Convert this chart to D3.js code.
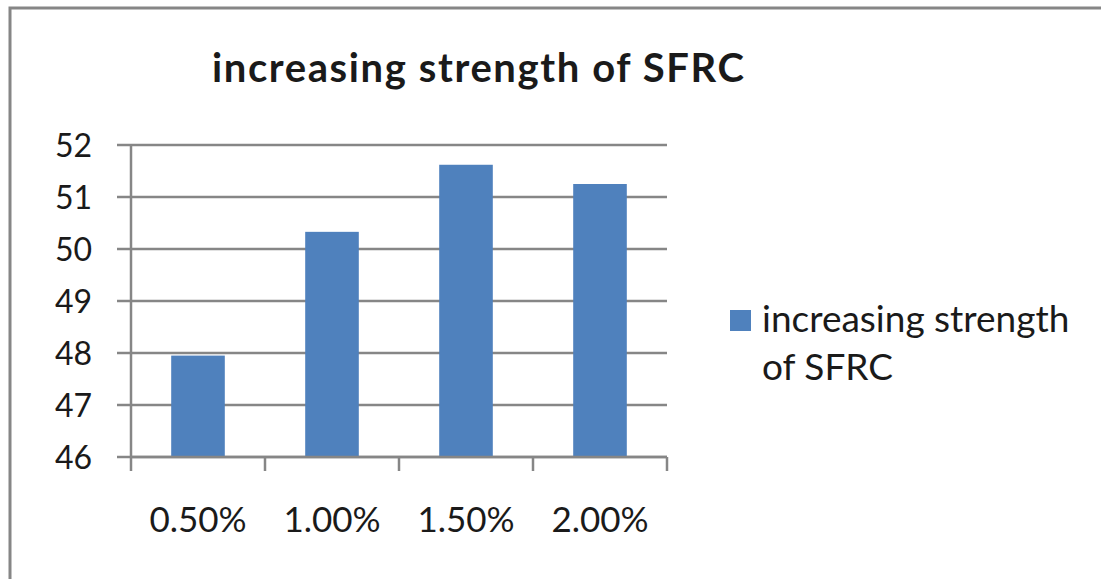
<!DOCTYPE html>
<html>
<head>
<meta charset="utf-8">
<script src="https://cdn.jsdelivr.net/npm/d3@7"></script>
<style>
  body { margin: 0; background: #fff; }
  svg { display: block; font-family: Lato, "Open Sans", sans-serif; }
</style>
</head>
<body>
<svg class="chart"></svg>
<script>
const categories = ['0.50%', '1.00%', '1.50%', '2.00%']
const strengths = [47.95, 50.33, 51.62, 51.25]
const yTicks = [46, 47, 48, 49, 50, 51, 52]
const seriesName = 'increasing strength of SFRC'
const legendLines = ['increasing strength', 'of SFRC']

const w = 1101
const h = 579
const plotLeft = 131
const plotRight = 667
const plotTop = 145
const plotBottom = 457
const barColor = '#4f81bd'
const lineColor = '#868686'
const textColor = '#1a1a1a'

const svg = d3.select('.chart')
  .attr('width', w)
  .attr('height', h)

// outer chart border (runs off the right and bottom edges)
svg.append('rect')
  .attr('x', 10)
  .attr('y', 8)
  .attr('width', w + 20)
  .attr('height', h + 20)
  .attr('fill', '#fff')
  .attr('stroke', lineColor)
  .attr('stroke-width', 3)

const xScale = d3.scaleBand()
  .domain(categories)
  .range([plotLeft, plotRight])
  .padding(0)

const yScale = d3.scaleLinear()
  .domain([46, 52])
  .range([plotBottom, plotTop])

// gridlines + y tick marks
svg.append('g')
  .selectAll('line')
  .data(yTicks)
  .enter()
  .append('line')
  .attr('x1', plotLeft - 14)
  .attr('x2', plotRight)
  .attr('y1', d => yScale(d))
  .attr('y2', d => yScale(d))
  .attr('stroke', lineColor)
  .attr('stroke-width', 2.5)

// y tick labels
svg.append('g')
  .selectAll('text')
  .data(yTicks)
  .enter()
  .append('text')
  .attr('x', 92)
  .attr('y', d => yScale(d))
  .attr('dy', '0.36em')
  .attr('text-anchor', 'end')
  .attr('fill', textColor)
  .style('font-size', '32px')
  .text(d => d)

// bars
const bw = xScale.bandwidth() * 0.4
svg.append('g')
  .selectAll('rect')
  .data(strengths)
  .enter()
  .append('rect')
  .attr('x', (d, i) => xScale(categories[i]) + (xScale.bandwidth() - bw) / 2)
  .attr('y', d => yScale(d))
  .attr('width', bw)
  .attr('height', d => plotBottom - yScale(d))
  .attr('fill', barColor)

// y axis line
svg.append('line')
  .attr('x1', plotLeft).attr('x2', plotLeft)
  .attr('y1', plotTop).attr('y2', plotBottom)
  .attr('stroke', lineColor)
  .attr('stroke-width', 2.5)

// x axis labels, ticks sit at category boundaries
const xAxis = d3.axisBottom(xScale)
  .tickSize(0)
  .tickPadding(0)
const gx = svg.append('g')
  .attr('transform', `translate(0, ${plotBottom})`)
  .call(xAxis)
gx.select('.domain').remove()
gx.selectAll('text')
  .attr('y', 75)
  .attr('dy', null)
  .attr('fill', textColor)
  .style('font-family', 'Lato, sans-serif')
  .style('font-size', '35px')

const boundaries = categories.map(c => xScale(c)).concat([plotRight])
svg.append('g')
  .selectAll('line')
  .data(boundaries)
  .enter()
  .append('line')
  .attr('x1', d => d).attr('x2', d => d)
  .attr('y1', plotBottom).attr('y2', plotBottom + 14)
  .attr('stroke', lineColor)
  .attr('stroke-width', 2.5)

svg.append('line')
  .attr('x1', plotLeft).attr('x2', plotRight)
  .attr('y1', plotBottom).attr('y2', plotBottom)
  .attr('stroke', lineColor)
  .attr('stroke-width', 2.5)

// title
svg.append('text')
  .attr('x', 212)
  .attr('y', 82)
  .attr('fill', textColor)
  .attr('textLength', 532)
  .attr('lengthAdjust', 'spacing')
  .style('font-size', '40px')
  .style('font-weight', 'bold')
  .text(seriesName)

// legend
const legend = svg.append('g')
legend.append('rect')
  .attr('x', 730)
  .attr('y', 310)
  .attr('width', 21)
  .attr('height', 21)
  .attr('fill', barColor)
legend.selectAll('text')
  .data(legendLines)
  .enter()
  .append('text')
  .attr('x', 762)
  .attr('y', (d, i) => 332 + i * 48)
  .attr('fill', textColor)
  .style('font-size', '37px')
  .text(d => d)
</script>
</body>
</html>
